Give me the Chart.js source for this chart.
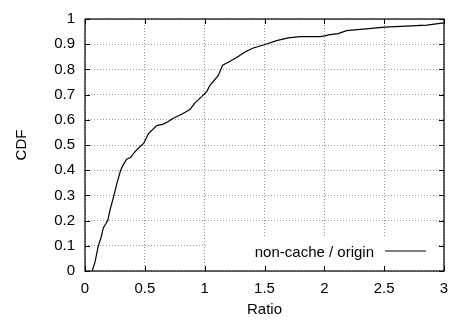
<!DOCTYPE html>
<html>
<head>
<meta charset="utf-8">
<script src="https://cdn.jsdelivr.net/npm/chart.js@4/dist/chart.umd.min.js"></script>
<style>
  html, body { margin: 0; padding: 0; background: #fff; }
  #wrap { width: 459px; height: 320px; }
</style>
</head>
<body>
<div id="wrap"><canvas id="cdfChart" width="459" height="320"></canvas></div>
<script>
// CDF of ratio
const ratioX = [0.06, 0.084, 0.111, 0.134, 0.153, 0.19, 0.209, 0.242, 0.265, 0.298, 0.32, 0.348,
  0.38, 0.418, 0.459, 0.49, 0.529, 0.571, 0.599, 0.654, 0.696, 0.738, 0.808, 0.877, 0.919,
  0.975, 1.017, 1.044, 1.114, 1.15, 1.197, 1.267, 1.337, 1.406, 1.498, 1.601, 1.699, 1.796,
  1.963, 2.005, 2.033, 2.116, 2.186, 2.506, 2.855, 3.0];
const cdfY = [0, 0.036, 0.1, 0.132, 0.171, 0.2, 0.242, 0.3, 0.345, 0.4, 0.422, 0.444,
  0.45, 0.474, 0.493, 0.506, 0.544, 0.564, 0.577, 0.583, 0.593, 0.606, 0.622, 0.641, 0.667,
  0.692, 0.712, 0.737, 0.776, 0.817, 0.828, 0.847, 0.869, 0.885, 0.898, 0.914, 0.925, 0.93,
  0.93, 0.933, 0.937, 0.942, 0.954, 0.968, 0.976, 0.985];
const xTicks = [0, 0.5, 1, 1.5, 2, 2.5, 3];
const yTicks = [0, 0.1, 0.2, 0.3, 0.4, 0.5, 0.6, 0.7, 0.8, 0.9, 1];
const seriesLabel = "non-cache / origin";

const FONT = "'Liberation Sans', Arial, Helvetica, sans-serif";

// gnuplot style frame, inward ticks and opaque key
const framePlugin = {
  id: "frame",
  afterDatasetsDraw(chart) {
    const { ctx, chartArea: a, scales } = chart;
    ctx.save();

    // key box
    const boxL = 207, boxR = a.right - 9, boxT = a.bottom - 34, boxB = a.bottom;
    ctx.fillStyle = "#fff";
    ctx.fillRect(boxL, boxT, boxR - boxL, boxB - boxT);
    ctx.fillStyle = "#000";
    ctx.font = "15px " + FONT;
    ctx.textAlign = "right";
    ctx.textBaseline = "middle";
    ctx.fillText(seriesLabel, boxR - 61, boxT + 16);
    ctx.strokeStyle = "#000";
    ctx.lineWidth = 1.2;
    ctx.beginPath();
    ctx.moveTo(boxR - 50, boxT + 14);
    ctx.lineTo(boxR - 9, boxT + 14);
    ctx.stroke();

    // frame
    ctx.lineWidth = 1.2;
    ctx.strokeRect(a.left, a.top, a.right - a.left, a.bottom - a.top);

    // ticks on all four sides
    ctx.lineWidth = 1;
    ctx.beginPath();
    const tl = 5;
    scales.x.ticks.forEach(t => {
      const px = Math.round(scales.x.getPixelForValue(t.value)) + 0.5;
      ctx.moveTo(px, a.bottom); ctx.lineTo(px, a.bottom - tl);
      ctx.moveTo(px, a.top); ctx.lineTo(px, a.top + tl);
    });
    scales.y.ticks.forEach(t => {
      const py = Math.round(scales.y.getPixelForValue(t.value)) + 0.5;
      ctx.moveTo(a.left, py); ctx.lineTo(a.left + tl, py);
      ctx.moveTo(a.right, py); ctx.lineTo(a.right - tl, py);
    });
    ctx.stroke();
    ctx.restore();
  }
};

const ctx = document.getElementById("cdfChart").getContext("2d");
const cdfChart = new Chart(ctx, {
  type: "scatter",
  data: {
    datasets: [
      {
        label: seriesLabel,
        data: ratioX.map((x, i) => ({ x: x, y: cdfY[i] })),
        showLine: true,
        borderColor: "#000",
        borderWidth: 1.2,
        pointRadius: 0,
        tension: 0,
      },
    ],
  },
  options: {
    responsive: false,
    animation: false,
    layout: { padding: { left: 0, right: 15, top: 12, bottom: 0 } },
    plugins: {
      legend: { display: false },
      tooltip: { enabled: false },
    },
    scales: {
      x: {
        type: "linear",
        min: 0,
        max: 3,
        afterBuildTicks: (s) => { s.ticks = xTicks.map(v => ({ value: v })); },
        afterFit: (s) => { s.height = 49; },
        grid: { color: "#999", borderDash: [1, 2], drawTicks: false },
        border: { display: false, dash: [1, 2] },
        ticks: {
          color: "#000",
          padding: 9,
          maxRotation: 0,
          font: { family: FONT, size: 15 },
          callback: (v) => String(v),
        },
        title: {
          display: true,
          text: "Ratio",
          color: "#000",
          font: { family: FONT, size: 15 },
          padding: { top: 0, bottom: 1 },
        },
      },
      y: {
        type: "linear",
        min: 0,
        max: 1,
        afterBuildTicks: (s) => { s.ticks = yTicks.map(v => ({ value: v })); },
        afterFit: (s) => { s.width = 85; },
        grid: { color: "#999", drawTicks: false },
        border: { display: false, dash: [1, 2] },
        ticks: {
          color: "#000",
          padding: 10,
          font: { family: FONT, size: 15 },
          callback: (v) => String(v),
        },
        title: {
          display: true,
          text: "CDF",
          color: "#000",
          font: { family: FONT, size: 15 },
          padding: { top: 13, bottom: 0 },
        },
      },
    },
  },
  plugins: [framePlugin],
});
</script>
</body>
</html>
